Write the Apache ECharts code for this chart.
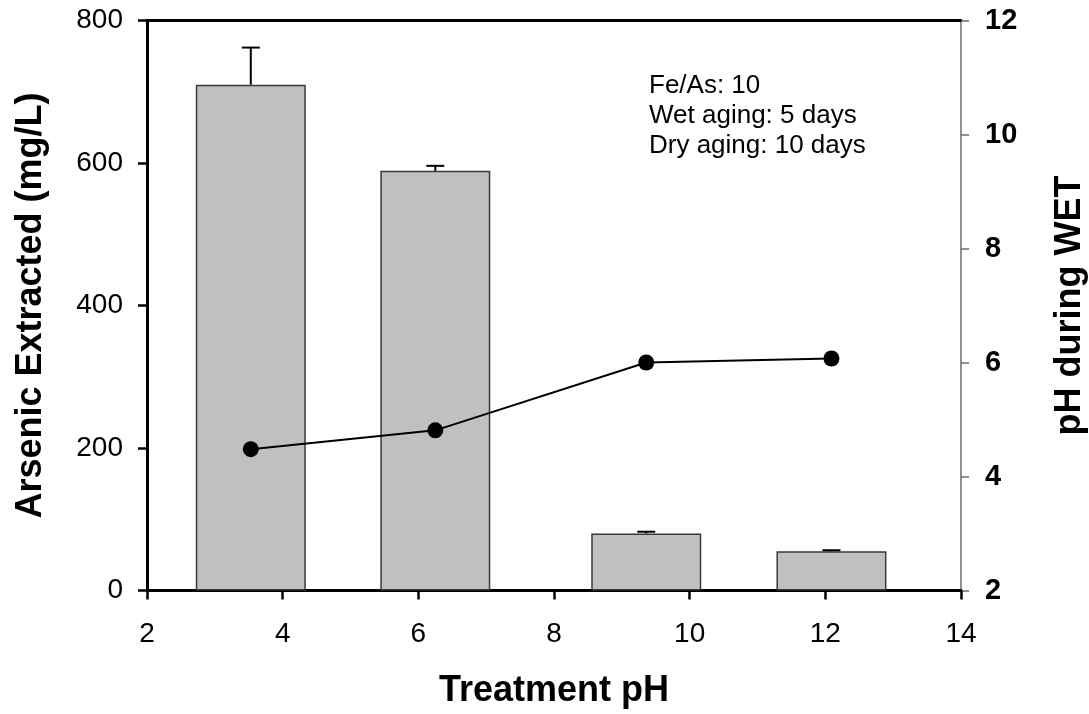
<!DOCTYPE html>
<html>
<head>
<meta charset="utf-8">
<style>
  html, body { margin: 0; padding: 0; background: #ffffff; }
  #chart { width: 1089px; height: 714px; }
</style>
<script src="https://cdn.jsdelivr.net/npm/echarts@6/dist/echarts.min.js"></script>
</head>
<body>
<div id="chart"></div>
<script>
// Treatment pH of each sample (x positions)
const treatmentPH = [3.53, 6.25, 9.36, 12.09];
// Arsenic extracted (mg/L) and upper error
const arsenicExtracted = [710, 589, 80, 55];
const arsenicError = [52, 7, 2.5, 1.5];
// pH measured during WET
const phDuringWet = [4.48, 4.81, 6.0, 6.07];

// Axis ticks
const xTicks = [2, 4, 6, 8, 10, 12, 14];
const leftTicks = [0, 200, 400, 600, 800];
const rightTicks = [2, 4, 6, 8, 10, 12];

const notes = ['Fe/As: 10', 'Wet aging: 5 days', 'Dry aging: 10 days'];

const FONT = "'Liberation Sans', Arial, Helvetica, sans-serif";

const barData = treatmentPH.map((x, i) => [x, arsenicExtracted[i]]);
const errData = treatmentPH.map((x, i) => [x, arsenicExtracted[i], arsenicError[i]]);
const lineData = treatmentPH.map((x, i) => [x, phDuringWet[i]]);

const chart = echarts.init(document.getElementById('chart'), null, { renderer: 'canvas' });

const option = {
  backgroundColor: '#ffffff',
  animation: false,
  textStyle: { fontFamily: FONT },
  grid: { left: 147, right: 128, top: 20.5, bottom: 123.5, containLabel: false, outerBoundsMode: 'none' },
  xAxis: [
    {
      type: 'value',
      position: 'bottom',
      min: xTicks[0],
      max: xTicks[xTicks.length - 1],
      interval: xTicks[1] - xTicks[0],
      splitLine: { show: false },
      axisLine: { show: true, onZero: false, lineStyle: { color: '#000', width: 3 } },
      axisTick: { show: true, inside: false, length: 9, lineStyle: { color: '#000', width: 2.5 } },
      axisLabel: { color: '#000', fontSize: 28, fontFamily: FONT, margin: 30 },
      name: 'Treatment pH',
      nameLocation: 'middle',
      nameGap: 83,
      nameTextStyle: { color: '#000', fontSize: 36, fontWeight: 'bold', fontFamily: FONT }
    },
    {
      type: 'value',
      position: 'top',
      min: xTicks[0],
      max: xTicks[xTicks.length - 1],
      splitLine: { show: false },
      axisLine: { show: true, onZero: false, lineStyle: { color: '#000', width: 3 } },
      axisTick: { show: false },
      axisLabel: { show: false }
    }
  ],
  yAxis: [
    {
      type: 'value',
      position: 'left',
      min: leftTicks[0],
      max: leftTicks[leftTicks.length - 1],
      interval: leftTicks[1] - leftTicks[0],
      splitLine: { show: false },
      axisLine: { show: true, onZero: false, lineStyle: { color: '#000', width: 3 } },
      axisTick: { show: true, inside: false, length: 9, lineStyle: { color: '#000', width: 2.5 } },
      axisLabel: { color: '#000', fontSize: 28, fontFamily: FONT, margin: 24 },
      name: 'Arsenic Extracted (mg/L)',
      nameLocation: 'middle',
      nameRotate: 90,
      nameGap: 98,
      nameTextStyle: { color: '#000', fontSize: 36, fontWeight: 'bold', fontFamily: FONT }
    },
    {
      type: 'value',
      position: 'right',
      min: rightTicks[0],
      max: rightTicks[rightTicks.length - 1],
      interval: rightTicks[1] - rightTicks[0],
      splitLine: { show: false },
      axisLine: { show: true, onZero: false, lineStyle: { color: '#6e6e6e', width: 1.5 } },
      axisTick: { show: true, inside: false, length: 8, lineStyle: { color: '#6e6e6e', width: 1.5 } },
      axisLabel: { color: '#000', fontSize: 29, fontWeight: 'bold', fontFamily: FONT, margin: 24 },
      name: 'pH during WET',
      nameLocation: 'middle',
      nameRotate: 90,
      nameGap: 91,
      nameTextStyle: { color: '#000', fontSize: 36, fontWeight: 'bold', fontFamily: FONT }
    }
  ],
  series: [
    {
      name: 'Arsenic Extracted',
      type: 'bar',
      xAxisIndex: 0,
      yAxisIndex: 0,
      barWidth: 110,
      data: barData,
      itemStyle: { color: '#c0c0c0', borderColor: '#3a3a3a', borderWidth: 1.5 },
      z: 2
    },
    {
      name: 'Error',
      type: 'custom',
      xAxisIndex: 0,
      yAxisIndex: 0,
      data: errData,
      z: 3,
      renderItem: function (params, api) {
        const x = api.value(0);
        const v = api.value(1);
        const e = api.value(2);
        const base = api.coord([x, v]);
        const top = api.coord([x, v + e]);
        const half = 9;
        return {
          type: 'group',
          children: [
            { type: 'line', shape: { x1: base[0], y1: base[1], x2: top[0], y2: top[1] },
              style: { stroke: '#000', lineWidth: 2 } },
            { type: 'line', shape: { x1: top[0] - half, y1: top[1], x2: top[0] + half, y2: top[1] },
              style: { stroke: '#000', lineWidth: 2 } }
          ]
        };
      }
    },
    {
      name: 'pH during WET',
      type: 'line',
      xAxisIndex: 0,
      yAxisIndex: 1,
      data: lineData,
      symbol: 'circle',
      symbolSize: 16,
      itemStyle: { color: '#000' },
      lineStyle: { color: '#000', width: 2 },
      z: 4
    }
  ],
  graphic: [
    {
      type: 'text',
      left: 649,
      top: 71,
      z: 10,
      style: {
        text: notes.join('\n'),
        fontSize: 26,
        lineHeight: 30,
        fontFamily: FONT,
        fill: '#000'
      }
    }
  ]
};

chart.setOption(option);
</script>
</body>
</html>
